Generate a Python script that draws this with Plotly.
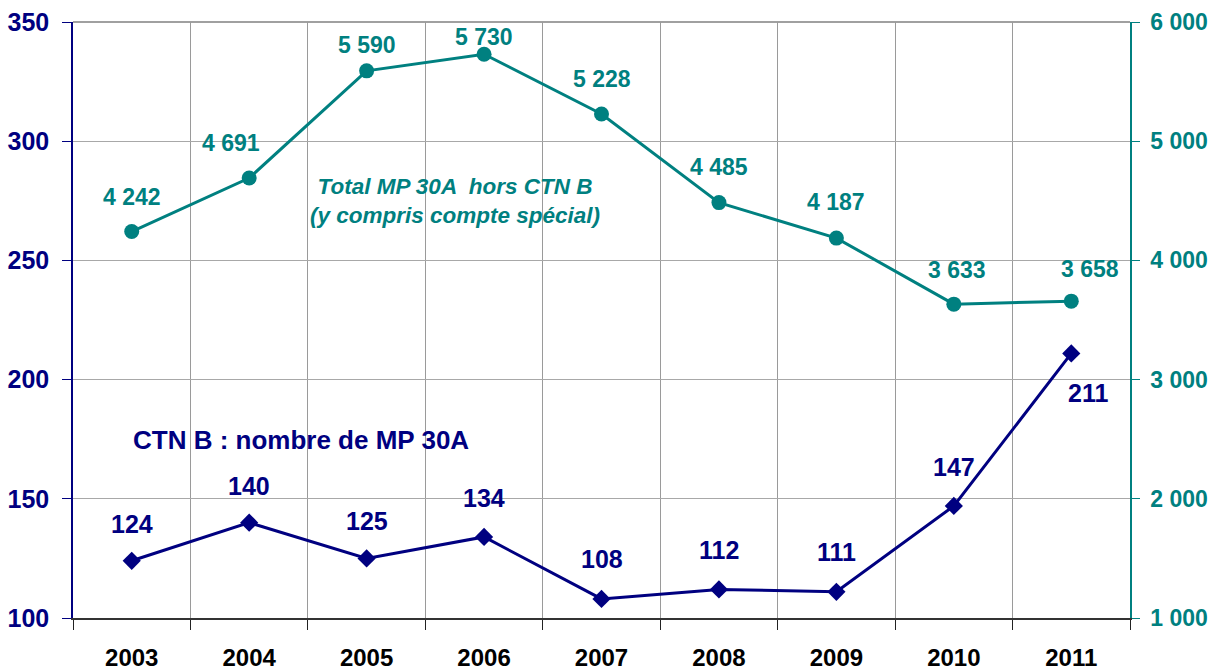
import plotly.graph_objects as go

years = ["2003", "2004", "2005", "2006", "2007", "2008", "2009", "2010", "2011"]
total_hors_ctnb = [4242, 4691, 5590, 5730, 5228, 4485, 4187, 3633, 3658]
ctnb_mp30a = [124, 140, 125, 134, 108, 112, 111, 147, 211]

NAVY = "#000080"
TEAL = "#008080"
FONT = "Liberation Sans, Arial, sans-serif"

# label offsets (px) to mimic the original label placement
teal_shift = [(0, 35), (-18, 35), (0, 26), (0, 17), (0, 35), (0, 36), (0, 36), (3, 34), (19, 32)]
navy_shift = [(0, 37), (0, 37), (0, 37), (0, 39), (0, 40), (0, 39), (0, 40), (0, 39), (17, -40)]


def fmt(v):
    return f"{v:,}".replace(",", " ")


fig = go.Figure()
fig.add_trace(go.Scatter(
    x=years, y=total_hors_ctnb, yaxis="y2", mode="lines+markers",
    line=dict(color=TEAL, width=3), marker=dict(symbol="circle", size=15, color=TEAL),
    hoverinfo="x+y", showlegend=False,
))
fig.add_trace(go.Scatter(
    x=years, y=ctnb_mp30a, mode="lines+markers",
    line=dict(color=NAVY, width=3), marker=dict(symbol="diamond", size=14, color=NAVY),
    hoverinfo="x+y", showlegend=False,
))

annotations = []
for i, (v, (dx, dy)) in enumerate(zip(total_hors_ctnb, teal_shift)):
    annotations.append(dict(x=i, y=v, xref="x", yref="y2", text=fmt(v), showarrow=False,
                            xshift=dx, yshift=dy,
                            font=dict(family=FONT, size=23, color=TEAL, weight="bold")))
for i, (v, (dx, dy)) in enumerate(zip(ctnb_mp30a, navy_shift)):
    annotations.append(dict(x=i, y=v, xref="x", yref="y", text=str(v), showarrow=False,
                            xshift=dx, yshift=dy,
                            font=dict(family=FONT, size=25, color=NAVY, weight="bold")))
annotations.append(dict(
    x=0.361, y=0.70, xref="paper", yref="paper", xanchor="center", yanchor="middle",
    showarrow=False,
    text="<i>Total MP 30A  hors CTN B<br>(y compris compte spécial)</i>",
    font=dict(family=FONT, size=22.5, color=TEAL, weight="bold"), align="center",
))
annotations.append(dict(
    x=0.216, y=0.299, xref="paper", yref="paper", xanchor="center", yanchor="middle",
    showarrow=False,
    text="CTN B : nombre de MP 30A",
    font=dict(family=FONT, size=26, color=NAVY, weight="bold"),
))

fig.update_layout(
    width=1208, height=670,
    margin=dict(l=73, r=78, t=22, b=52),
    paper_bgcolor="white", plot_bgcolor="white",
    annotations=annotations,
    xaxis=dict(
        type="category", tickson="boundaries", showgrid=True, gridcolor="#9a9a9a",
        gridwidth=1, showline=True, linecolor="#333333", linewidth=2,
        ticks="outside", ticklen=10, tickcolor="#222222", ticklabelstandoff=17,
        tickfont=dict(family=FONT, size=24, color="black", weight="bold"),
        range=[-0.5, 8.5], zeroline=False, automargin=False, ticklabeloverflow="allow",
    ),
    yaxis=dict(
        range=[100, 350], dtick=50, showgrid=True, gridcolor="#a8a8a8", gridwidth=1,
        showline=True, linecolor=NAVY, linewidth=1.5,
        ticks="outside", ticklen=9, tickcolor=NAVY, ticklabelstandoff=8,
        tickfont=dict(family=FONT, size=25, color=NAVY, weight="bold"), zeroline=False,
        automargin=False, ticklabeloverflow="allow",
    ),
    yaxis2=dict(
        range=[1000, 6000], dtick=1000, overlaying="y", side="right", showgrid=False,
        showline=True, linecolor=TEAL, linewidth=1.5,
        ticks="outside", ticklen=8, tickcolor=TEAL, ticklabelstandoff=6,
        tickformat=",d",
        tickfont=dict(family=FONT, size=23, color=TEAL, weight="bold"), zeroline=False,
        automargin=False, ticklabeloverflow="allow",
    ),
    separators=". ",
    shapes=[dict(type="line", xref="paper", yref="paper", x0=0, x1=1, y0=1, y1=1,
                 line=dict(color="#808080", width=1.5), layer="below")],
)

# drop the default page margin so the figure fills the window exactly
fig.write_html("out.html", config={"displayModeBar": False},
               post_script="document.body.style.margin='0';")
